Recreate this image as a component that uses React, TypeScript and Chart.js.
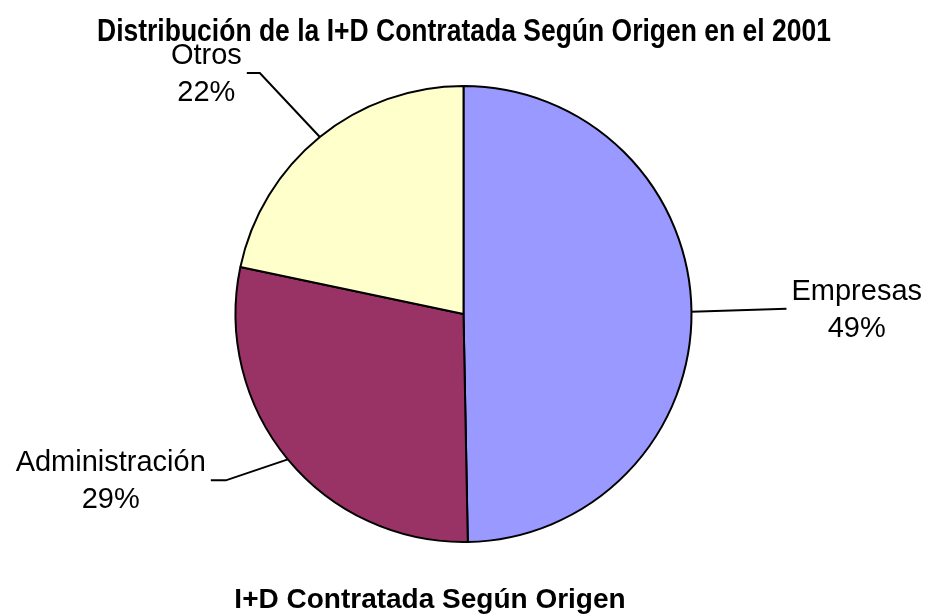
import React, { useEffect, useRef } from "react";
import { Chart, registerables } from "chart.js";

Chart.register(...registerables);

const TITLE = "Distribución de la I+D Contratada Según Origen en el 2001";
const CAPTION = "I+D Contratada Según Origen";
const categories = ["Empresas", "Administración", "Otros"];
const shares = [49.7, 28.6, 21.7];
const percentLabels = ["49%", "29%", "22%"];
const colors = ["#9999FF", "#993366", "#FFFFCC"];

const FONT = "'Liberation Sans', Arial, Helvetica, sans-serif";

// leader-line layout per slice: elbow offset from slice anchor, then horizontal tail
const labelLayout = [
  { elbow: [95, -3], tail: 0, side: "right" },
  { elbow: [-62, 21], tail: -15, side: "left" },
  { elbow: [-60, -64], tail: -13, side: "left" },
];

const leaderLabels = {
  id: "leaderLabels",
  afterDatasetsDraw(chart: any) {
    const ctx = chart.ctx;
    const meta = chart.getDatasetMeta(0);
    ctx.save();
    ctx.font = `29px ${FONT}`;
    ctx.fillStyle = "#000";
    ctx.strokeStyle = "#000";
    ctx.lineWidth = 2;
    meta.data.forEach((arc: any, i: number) => {
      const p = arc.getProps(["x", "y", "startAngle", "endAngle", "outerRadius"], true);
      const mid = (p.startAngle + p.endAngle) / 2;
      const ax = p.x + Math.cos(mid) * p.outerRadius;
      const ay = p.y + Math.sin(mid) * p.outerRadius;
      const lay = labelLayout[i];
      const ex = ax + lay.elbow[0];
      const ey = ay + lay.elbow[1];
      const tx = ex + lay.tail;
      ctx.beginPath();
      ctx.moveTo(ax, ay);
      ctx.lineTo(ex, ey);
      ctx.lineTo(tx, ey);
      ctx.stroke();
      const lines = [chart.data.labels[i] as string, percentLabels[i]];
      const w = Math.max(...lines.map((l) => ctx.measureText(l).width));
      const cx = lay.side === "right" ? tx + 5 + w / 2 : tx - 5 - w / 2;
      ctx.textAlign = "center";
      ctx.textBaseline = "alphabetic";
      ctx.fillText(lines[0], cx, ey - 9);
      ctx.fillText(lines[1], cx, ey + 28);
    });
    ctx.restore();
  },
};

const titles = {
  id: "titles",
  afterDraw(chart: any) {
    const ctx = chart.ctx;
    ctx.save();
    ctx.fillStyle = "#000";
    ctx.textBaseline = "alphabetic";
    // condensed bold title
    ctx.font = `bold 31px ${FONT}`;
    const tw = ctx.measureText(TITLE).width;
    const sx = 734 / tw;
    ctx.translate(464, 41);
    ctx.scale(sx, 1);
    ctx.textAlign = "center";
    ctx.fillText(TITLE, 0, 0);
    ctx.restore();

    ctx.save();
    ctx.fillStyle = "#000";
    ctx.font = `bold 28px ${FONT}`;
    ctx.textAlign = "center";
    ctx.textBaseline = "alphabetic";
    ctx.fillText(CAPTION, 430, 608);
    ctx.restore();
  },
};

export default function App() {
  const ref = useRef<HTMLCanvasElement>(null);
  useEffect(() => {
    if (!ref.current) return;
    const chart = new Chart(ref.current, {
      type: "pie",
      data: {
        labels: categories,
        datasets: [
          {
            data: shares,
            backgroundColor: colors,
            borderColor: "#000",
            borderWidth: 2,
          },
        ],
      },
      options: {
        animation: false,
        responsive: true,
        maintainAspectRatio: false,
        layout: { padding: { top: 85, bottom: 73, left: 0, right: 0 } },
        plugins: {
          legend: { display: false },
          tooltip: { enabled: false },
          title: { display: false },
        },
      },
      plugins: [leaderLabels, titles],
    });
    return () => chart.destroy();
  }, []);
  return (
    <div style={{ position: "absolute", left: 0, top: 0, width: 927, height: 616, background: "#fff" }}>
      <canvas ref={ref} />
    </div>
  );
}
